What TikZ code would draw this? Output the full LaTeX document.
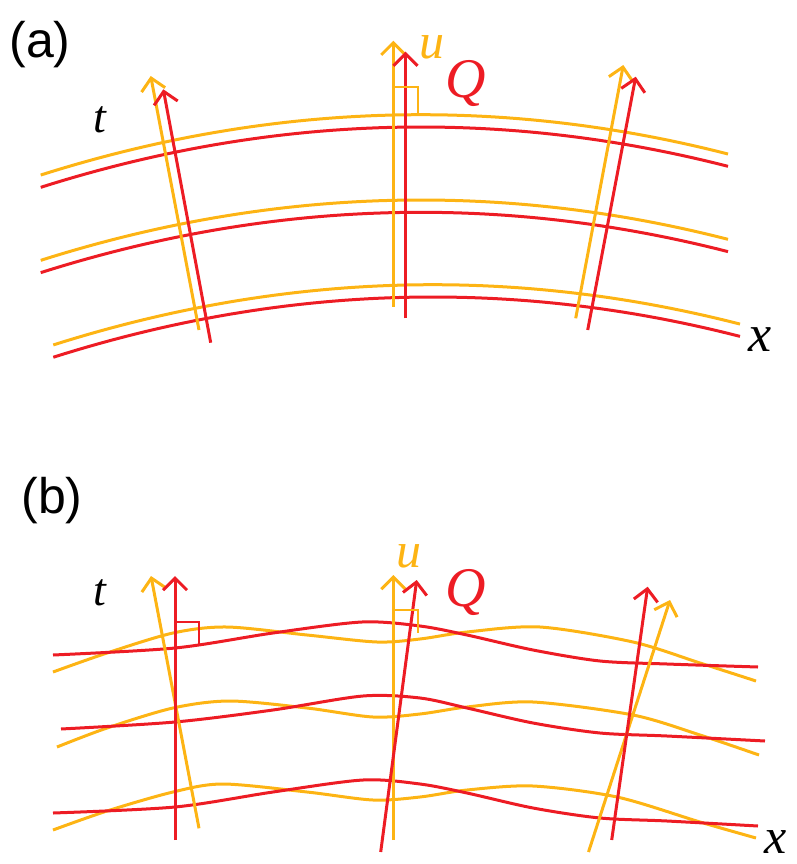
\documentclass[tikz,border=0pt]{standalone}
\usepackage{fontspec}
\setmainfont{Liberation Serif}
\newfontfamily\panelfont{Liberation Sans}
\usetikzlibrary{arrows.meta}
\definecolor{myor}{RGB}{253,180,20}
\definecolor{myred}{RGB}{237,28,36}
\begin{document}
\begin{tikzpicture}[x=1pt,y=-1pt,
  curve/.style={line width=3pt},
  vec/.style={line width=3pt,-{Straight Barb[length=12pt,width=24pt]}},
  rmark/.style={line width=1.8pt},
  lab/.style={font=\fontsize{46}{50}\selectfont\itshape,inner sep=0pt},
  panel/.style={font=\panelfont\fontsize{50}{54}\selectfont,inner sep=0pt}]
\useasboundingbox (0,0) rectangle (796,864);

% ---------- panel (a) ----------
\node[panel] (pa) at (40,45) {(a)};
\draw[curve,myor] plot[domain=40.7:728,samples=60] (\x,{114.7+4.172*((\x-421)/100)^2});
\draw[curve,myred] plot[domain=40.7:728,samples=60] (\x,{127.0+4.172*((\x-421)/100)^2});
\draw[curve,myor] plot[domain=40.7:728,samples=60] (\x,{200.0+4.172*((\x-421)/100)^2});
\draw[curve,myred] plot[domain=40.7:728,samples=60] (\x,{212.3+4.172*((\x-421)/100)^2});
\draw[curve,myor] plot[domain=53.3:740,samples=60] (\x,{284.7+4.178*((\x-433)/100)^2});
\draw[curve,myred] plot[domain=53.3:740,samples=60] (\x,{297.0+4.178*((\x-433)/100)^2});

\coordinate (aoL0) at (199,330);   \coordinate (aoL1) at (150.7,76);
\coordinate (arL0) at (210.7,342.7); \coordinate (arL1) at (163.3,89.3);
\coordinate (aoM0) at (393.3,306.7); \coordinate (aoM1) at (393.3,40.7);
\coordinate (arM0) at (405.5,318.3); \coordinate (arM1) at (405.5,51.7);
\coordinate (aoR0) at (575.7,318.3); \coordinate (aoR1) at (623.3,65);
\coordinate (arR0) at (587.7,330);  \coordinate (arR1) at (635.7,76.7);
\draw[vec,myor] (aoL0) -- (aoL1);
\draw[vec,myred] (arL0) -- (arL1);
\draw[vec,myor] (aoM0) -- (aoM1);
\draw[vec,myred] (arM0) -- (arM1);
\draw[vec,myor] (aoR0) -- (aoR1);
\draw[vec,myred] (arR0) -- (arR1);
\coordinate (ama) at (393.3,87); \coordinate (amb) at (418,87); \coordinate (amc) at (418,114);
\draw[rmark,myor] (ama) -- (amb) -- (amc);

\node[lab] (ta) at (100,120) {t};
\node[lab,myor,font=\fontsize{50}{54}\selectfont\itshape] (ua) at (432,47) {u};
\node[lab,myred,font=\fontsize{56}{60}\selectfont\itshape] (Qa) at (466,84) {Q};
\node[lab,font=\fontsize{52}{56}\selectfont\itshape] (xa) at (760,340) {x};

% ---------- panel (b) ----------
\node[panel] (pb) at (52,501) {(b)};
\draw[curve,myor] plot[smooth] coordinates {(53,672) (107,653) (173,633) (227,627) (307,635) (377,642) (420,639) (467,632) (540,627) (633,642) (700,663) (756,681)};
\draw[curve,myor] plot[smooth] coordinates {(57,747) (107,728) (173,708) (230,701) (307,708) (373,717) (420,714) (467,707) (533,702) (633,715) (700,735) (759,755)};
\draw[curve,myor] plot[smooth] coordinates {(53,830) (107,811) (173,792) (223,784) (307,792) (373,800) (420,797) (467,790) (533,786) (617,797) (700,822) (756,838)};
\draw[curve,myred] plot[smooth] coordinates {(53,655) (175,648) (273,633) (362,622) (420,626) (467,635) (533,650) (600,661) (667,664) (758,667)};
\draw[curve,myred] plot[smooth] coordinates {(61,729) (175,722) (273,710) (363,696) (420,698) (467,708) (533,723) (600,733) (667,736) (765,741)};
\draw[curve,myred] plot[smooth] coordinates {(53,813) (175,807) (273,792) (363,780) (420,784) (467,793) (533,808) (600,818) (667,821) (758,826)};

\coordinate (boL0) at (199,828.3); \coordinate (boL1) at (151,576);
\coordinate (brL0) at (175,840);   \coordinate (brL1) at (175,576);
\coordinate (boM0) at (393.3,840); \coordinate (boM1) at (393.3,575);
\coordinate (brM0) at (380.7,852); \coordinate (brM1) at (416.7,580);
\coordinate (boR0) at (588.5,852); \coordinate (boR1) at (670,600);
\coordinate (brR0) at (611.7,840); \coordinate (brR1) at (647.7,586.7);
\draw[vec,myor] (boL0) -- (boL1);
\draw[vec,myred] (brL0) -- (brL1);
\draw[vec,myor] (boM0) -- (boM1);
\draw[vec,myred] (brM0) -- (brM1);
\draw[vec,myor] (boR0) -- (boR1);
\draw[vec,myred] (brR0) -- (brR1);
\coordinate (bma) at (175,622); \coordinate (bmb) at (199,622); \coordinate (bmc) at (199,644);
\draw[rmark,myred] (bma) -- (bmb) -- (bmc);
\coordinate (bna) at (393.3,610); \coordinate (bnb) at (418,610); \coordinate (bnc) at (418,633);
\draw[rmark,myor] (bna) -- (bnb) -- (bnc);

\node[lab] (tb) at (100,593) {t};
\node[lab,myor,font=\fontsize{50}{54}\selectfont\itshape] (ub) at (409,556) {u};
\node[lab,myred,font=\fontsize{56}{60}\selectfont\itshape] (Qb) at (466,592) {Q};
\node[lab,font=\fontsize{50}{54}\selectfont\itshape] (xb) at (776,842) {x};
\end{tikzpicture}
\end{document}
